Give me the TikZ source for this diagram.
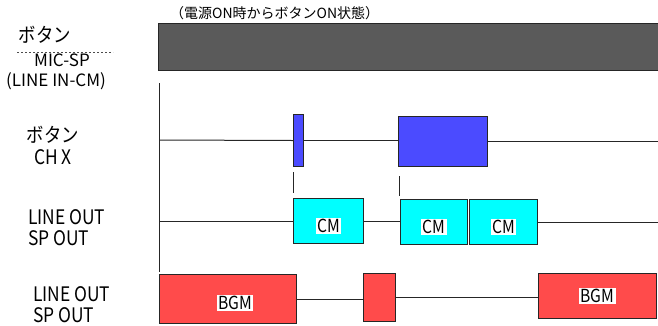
\documentclass[tikz,border=0pt]{standalone}
\usepackage{fontspec}
\setmainfont{Noto Sans CJK JP}
\newfontfamily\condfont[FakeStretch=0.87]{Noto Sans CJK JP}
\usepackage{tikz}
\usetikzlibrary{positioning}
\definecolor{barCol}{RGB}{90, 90, 90}
\definecolor{chCol}{RGB}{75, 75, 255}
\definecolor{cmCol}{RGB}{0, 255, 255}
\definecolor{bgmCol}{RGB}{255, 75, 75}
\tikzset{myLine/.style={line width=1pt,color=black!85}}
\tikzset{myBox/.style={draw=black!85, line width=1pt, anchor=north west, inner sep=0pt}}
\tikzset{myTag/.style={fill=white, inner sep=1.5pt, font=\condfont\fontsize{18}{18}\selectfont}}
\tikzset{myLabel/.style={inner sep=0pt, font=\condfont\fontsize{20}{20}\selectfont}}
\tikzset{mySmallLabel/.style={inner sep=0pt, font=\fontsize{17}{17}\selectfont}}
\newcommand{\rowEnd}{658}

\begin{document}
\begin{tikzpicture}[x=1pt,y=-1pt]
		\useasboundingbox (0,0) rectangle (658,325);
		\node[anchor=west, inner sep=0pt, font=\fontsize{14}{14}\selectfont] (note) at (170,13) {（電源ON時からボタンON状態）};
		% labels on the left
		\node[myLabel] (btnA) at (45,35) {ボタン};
		\node[mySmallLabel] (micSp) at (62,60) {MIC-SP};
		\node[mySmallLabel] (lineIn) at (56,81) {(LINE IN-CM)};
		\coordinate (dashL) at (17,52);
		\coordinate (dashR) at (113,52);
		\draw[black!70, line width=0.6pt, dash pattern=on 2pt off 2pt](dashL) -- (dashR);
		\node[myLabel] (btnB) at (53,135) {ボタン};
		\node[myLabel] (chX) at (53,157) {CH X};
		\node[myLabel, anchor=west] (outA) at (28,217) {LINE OUT};
		\node[myLabel, anchor=west] (spA) at (28,238) {SP OUT};
		\node[myLabel, anchor=west] (outB) at (33,294) {LINE OUT};
		\node[myLabel, anchor=west] (spB) at (33,315) {SP OUT};
		% time axis
		\coordinate (axTop) at (159,83);
		\coordinate (axBot) at (159,272);
		\coordinate (axB) at (159,140);
		\coordinate (axC) at (159,221);
		\coordinate (endR) at (\rowEnd,0);
		\draw[myLine](axTop) -- (axBot);
		\node[myBox, fill=barCol, minimum width=510, minimum height=47] (bar) at (158,23) {};
		% CH X button
		\node[myBox, fill=chCol, minimum width=10, minimum height=52] (chA) at (293,114) {};
		\node[myBox, fill=chCol, minimum width=89, minimum height=50] (chB) at (398,116) {};
		\draw[myLine](axB) -- (chA.west);
		\draw[myLine](chA.east) -- (chA.east -| chB.west);
		\draw[myLine](chB.east) -- (chB.east -| endR);
		% CM out
		\node[myBox, fill=cmCol, minimum width=70, minimum height=45] (cmA) at (293,198) {};
		\node[myBox, fill=cmCol, minimum width=67, minimum height=45] (cmB) at (400,199) {};
		\node[myBox, fill=cmCol, minimum width=68, minimum height=45] (cmC) at (469,199) {};
		\node[myTag] (cmAtxt) at ([yshift=-5pt]cmA.center) {CM};
		\node[myTag] (cmBtxt) at ([yshift=-5pt]cmB.center) {CM};
		\node[myTag] (cmCtxt) at ([yshift=-5pt]cmC.center) {CM};
		\draw[myLine](axC) -- (cmA.west);
		\draw[myLine](cmA.east) -- (cmA.east -| cmB.west);
		\draw[myLine](cmC.east) -- (cmC.east -| endR);
		\draw[myLine]([yshift=-5pt]chA.south west) -- ([yshift=5pt]cmA.north west);
		\draw[myLine]([shift={(1,9)}]chB.south west) -- ++(0,20);
		% BGM out
		\node[myBox, fill=bgmCol, minimum width=137, minimum height=49] (bgmA) at (159,274) {};
		\node[myBox, fill=bgmCol, minimum width=32, minimum height=48] (bgmB) at (363,273) {};
		\node[myBox, fill=bgmCol, minimum width=118, minimum height=45] (bgmC) at (538,273) {};
		\node[myTag] (bgmAtxt) at ([shift={(7,4)}]bgmA.center) {BGM};
		\node[myTag] (bgmCtxt) at (bgmC.center) {BGM};
		\draw[myLine](bgmA.east) -- (bgmA.east -| bgmB.west);
		\draw[myLine](bgmB.east) -- (bgmB.east -| bgmC.west);
	\end{tikzpicture}
\end{document}
